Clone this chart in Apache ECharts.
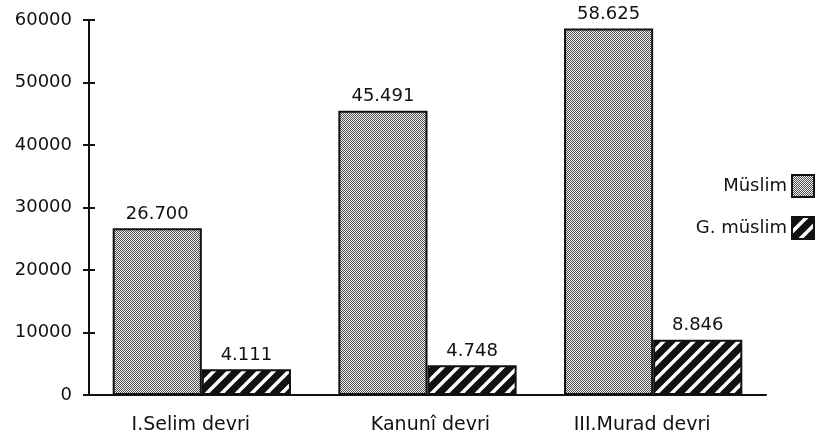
<!DOCTYPE html>
<html>
<head>
<meta charset="utf-8">
<script src="https://cdn.jsdelivr.net/npm/echarts@6/dist/echarts.min.js"></script>
<style>
  html, body { margin: 0; padding: 0; background: #fff; }
  #chart { width: 817px; height: 441px; }
</style>
</head>
<body>
<div id="chart"></div>
<script>
const categories = ['I.Selim devri', 'Kanunî devri', 'III.Murad devri']
const muslim = [26700, 45491, 58625]
const gayriMuslim = [4111, 4748, 8846]
const seriesNames = ['Müslim', 'G. müslim']

// noktalı binlik ayırıcı
function fmt(v) {
  return String(v).replace(/\B(?=(\d{3})+(?!\d))/g, '.')
}

function stipple() {
  const c = document.createElement('canvas')
  c.width = 2
  c.height = 2
  const ctx = c.getContext('2d')
  ctx.fillStyle = '#f0f0f0'
  ctx.fillRect(0, 0, 2, 2)
  ctx.fillStyle = '#505050'
  ctx.fillRect(0, 0, 1, 1)
  ctx.fillRect(1, 1, 1, 1)
  return c
}

function hatch() {
  const s = 15
  const c = document.createElement('canvas')
  c.width = s
  c.height = s
  const ctx = c.getContext('2d')
  ctx.fillStyle = '#111'
  ctx.fillRect(0, 0, s, s)
  ctx.strokeStyle = '#fff'
  ctx.lineWidth = 3.5
  for (const o of [-s, 0, s]) {
    ctx.beginPath()
    ctx.moveTo(o - 1, s + 1)
    ctx.lineTo(o + s + 1, -1)
    ctx.stroke()
  }
  return c
}

const font = 'DejaVu Sans'
// [left, right] padding to nudge each category label
const labelPad = [[0, 22], [6, 0], [0, 22]]

const chart = echarts.init(document.getElementById('chart'))
chart.setOption({
  animation: false,
  textStyle: { fontFamily: font, color: '#111' },
  grid: { left: 89, right: 51, top: 20, bottom: 46 },
  legend: {
    data: seriesNames,
    orient: 'vertical',
    icon: 'rect',
    right: 2,
    top: 174,
    padding: 0,
    align: 'right',
    itemWidth: 22,
    itemHeight: 22,
    itemGap: 18,
    textStyle: { fontFamily: font, fontSize: 18, color: '#111' }
  },
  xAxis: [{
    type: 'category',
    data: categories,
    axisLine: { lineStyle: { color: '#111', width: 2 } },
    axisTick: { length: 6, lineStyle: { color: '#111', width: 2 } },
    axisLabel: {
      margin: 21,
      color: '#111',
      formatter: (v, i) => '{l' + i + '|' + v + '}',
      rich: {
        l0: { fontSize: 19, fontFamily: font, padding: [0, labelPad[0][1], 0, labelPad[0][0]] },
        l1: { fontSize: 19, fontFamily: font, padding: [0, labelPad[1][1], 0, labelPad[1][0]] },
        l2: { fontSize: 19, fontFamily: font, padding: [0, labelPad[2][1], 0, labelPad[2][0]] }
      }
    }
  }, {
    type: 'category',
    data: categories,
    position: 'bottom',
    axisLine: { show: false },
    axisTick: { inside: true, length: 6, lineStyle: { color: '#111', width: 2 } },
    axisLabel: { show: false }
  }],
  yAxis: [{
    type: 'value',
    min: 0,
    max: 60000,
    interval: 10000,
    splitLine: { show: false },
    axisLine: { show: true, lineStyle: { color: '#111', width: 2 } },
    axisTick: { show: true, length: 6, lineStyle: { color: '#111', width: 2 } },
    axisLabel: { margin: 17, fontSize: 18, color: '#111', formatter: v => String(v) }
  }, {
    type: 'value',
    min: 0,
    max: 60000,
    interval: 10000,
    position: 'left',
    splitLine: { show: false },
    axisLine: { show: false },
    axisTick: { show: true, inside: true, length: 6, lineStyle: { color: '#111', width: 2 } },
    axisLabel: { show: false }
  }],
  series: [{
    name: seriesNames[0],
    type: 'bar',
    data: muslim,
    barGap: '0%',
    barCategoryGap: '21%',
    itemStyle: {
      color: { image: stipple(), repeat: 'repeat' },
      borderColor: '#111',
      borderWidth: 2
    },
    label: {
      show: true,
      position: 'top',
      distance: 5,
      fontSize: 18,
      color: '#111',
      formatter: p => fmt(p.value)
    }
  }, {
    name: seriesNames[1],
    type: 'bar',
    data: gayriMuslim,
    itemStyle: {
      color: { image: hatch(), repeat: 'repeat' },
      borderColor: '#111',
      borderWidth: 2
    },
    label: {
      show: true,
      position: 'top',
      distance: 5,
      fontSize: 18,
      color: '#111',
      formatter: p => fmt(p.value)
    }
  }]
})
</script>
</body>
</html>
